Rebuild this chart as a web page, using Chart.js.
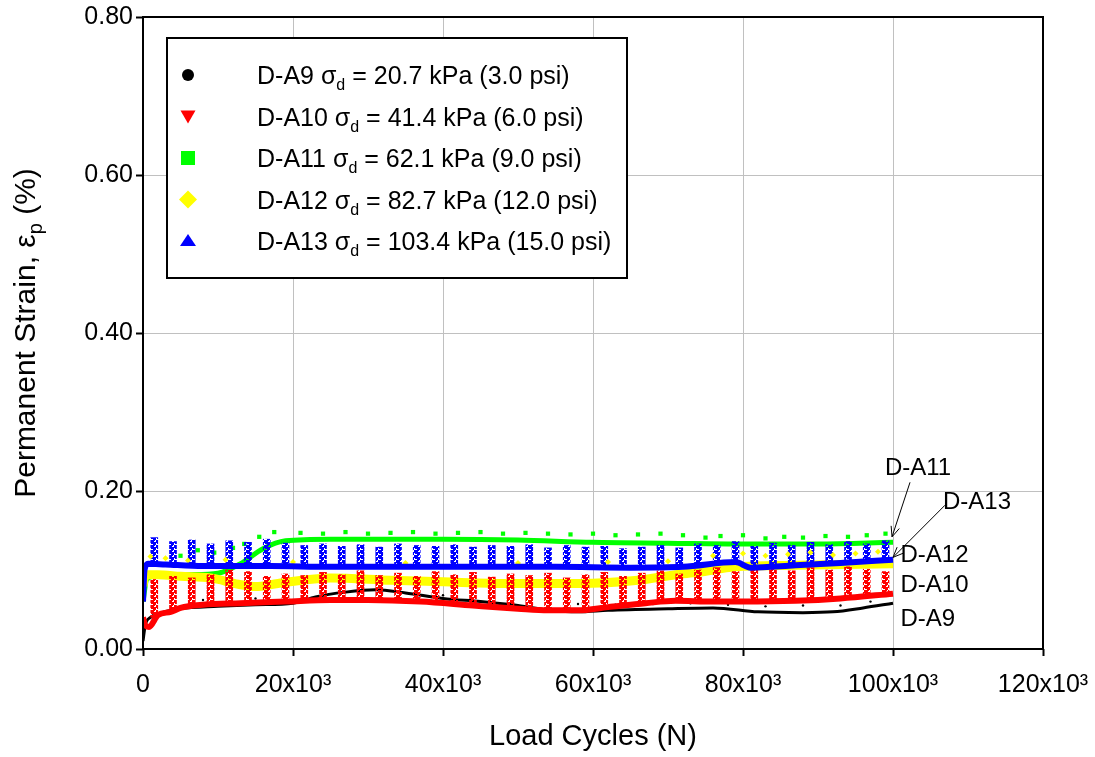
<!DOCTYPE html>
<html>
<head>
<meta charset="utf-8">
<title>Permanent Strain vs Load Cycles</title>
<script src="https://cdn.jsdelivr.net/npm/chart.js@4.4.0/dist/chart.umd.min.js"></script>
<style>
  html, body { margin: 0; padding: 0; background: #ffffff; }
</style>
</head>
<body>
<canvas id="myChart" width="1095" height="757"></canvas>
<script>
// Trend curves (load cycles, permanent strain %)
var a9N = [0, 300, 1000, 2500, 5000, 10000, 15000, 20000, 23000, 27000, 31000, 35000, 40000, 45000, 50000, 55000, 58000, 62000, 70000, 76000, 82000, 88000, 92000, 96000, 100000];
var a9Strain = [0.010, 0.030, 0.040, 0.046, 0.051, 0.054, 0.056, 0.058, 0.066, 0.072, 0.075, 0.071, 0.064, 0.060, 0.055, 0.048, 0.047, 0.049, 0.051, 0.052, 0.047, 0.046, 0.047, 0.052, 0.058];

var a10N = [0, 300, 800, 2000, 3700, 5000, 8000, 13000, 19000, 25000, 30000, 37000, 44000, 50000, 54000, 58000, 62000, 67000, 71000, 76000, 80000, 87000, 93000, 100000];
var a10Strain = [0.040, 0.030, 0.028, 0.043, 0.047, 0.052, 0.056, 0.058, 0.060, 0.062, 0.062, 0.060, 0.055, 0.051, 0.049, 0.049, 0.053, 0.058, 0.061, 0.060, 0.060, 0.061, 0.064, 0.070];

var a11N = [0, 500, 2000, 6000, 10000, 13000, 16000, 19000, 25000, 40000, 50000, 60000, 70000, 80000, 90000, 100000];
var a11Strain = [0.060, 0.088, 0.093, 0.094, 0.096, 0.108, 0.127, 0.137, 0.139, 0.139, 0.138, 0.135, 0.134, 0.133, 0.133, 0.135];

var a12N = [0, 300, 2000, 5000, 9000, 12700, 15000, 18000, 25000, 33000, 40000, 49000, 58000, 66000, 71000, 74000, 79000, 87000, 100000];
var a12Strain = [0.080, 0.094, 0.094, 0.092, 0.090, 0.082, 0.079, 0.083, 0.090, 0.087, 0.085, 0.083, 0.083, 0.087, 0.094, 0.097, 0.104, 0.106, 0.108];

var a13N = [0, 200, 700, 3000, 8000, 17000, 25000, 40000, 55000, 65000, 72000, 79000, 81000, 87000, 93000, 100000];
var a13Strain = [0.060, 0.100, 0.108, 0.107, 0.105, 0.105, 0.104, 0.104, 0.104, 0.103, 0.104, 0.110, 0.103, 0.106, 0.109, 0.113];

// Scatter of the cyclic readings above each curve
var spikeN = [1500, 4000, 6500, 9000, 11500, 14000, 16500, 19000, 21500, 24000, 26500, 29000, 31500, 34000, 36500, 39000, 41500, 44000, 46500, 49000, 51500, 54000, 56500, 59000, 61500, 64000, 66500, 69000, 71500, 74000, 76500, 79000, 81500, 84000, 86500, 89000, 91500, 94000, 96500, 99000];
var a10SpikeLow = [0.040, 0.048, 0.054, 0.056, 0.057, 0.058, 0.059, 0.060, 0.061, 0.062, 0.062, 0.062, 0.062, 0.061, 0.060, 0.059, 0.057, 0.055, 0.053, 0.052, 0.050, 0.049, 0.049, 0.050, 0.052, 0.055, 0.058, 0.060, 0.061, 0.061, 0.060, 0.060, 0.060, 0.060, 0.060, 0.061, 0.063, 0.065, 0.067, 0.069];
var a10SpikeTop = [0.088, 0.092, 0.090, 0.094, 0.100, 0.098, 0.092, 0.095, 0.093, 0.097, 0.094, 0.099, 0.093, 0.096, 0.092, 0.098, 0.094, 0.097, 0.091, 0.095, 0.093, 0.096, 0.090, 0.094, 0.097, 0.092, 0.096, 0.099, 0.095, 0.100, 0.103, 0.098, 0.101, 0.104, 0.099, 0.103, 0.100, 0.104, 0.101, 0.098];
var a13SpikeLow = [0.107, 0.107, 0.106, 0.105, 0.105, 0.105, 0.105, 0.105, 0.105, 0.104, 0.104, 0.104, 0.104, 0.104, 0.104, 0.104, 0.104, 0.104, 0.104, 0.104, 0.104, 0.104, 0.104, 0.104, 0.104, 0.103, 0.103, 0.103, 0.104, 0.106, 0.108, 0.109, 0.103, 0.105, 0.106, 0.107, 0.108, 0.110, 0.111, 0.112];
var a13SpikeTop = [0.141, 0.136, 0.138, 0.133, 0.137, 0.135, 0.139, 0.134, 0.131, 0.133, 0.130, 0.132, 0.129, 0.133, 0.131, 0.130, 0.132, 0.129, 0.131, 0.130, 0.132, 0.128, 0.131, 0.129, 0.130, 0.127, 0.129, 0.131, 0.128, 0.133, 0.131, 0.136, 0.130, 0.134, 0.131, 0.135, 0.132, 0.136, 0.133, 0.137];

var a11DotN = [5000, 7300, 9500, 12000, 13500, 15500, 17500, 21000, 24000, 27000, 30000, 33000, 36000, 39000, 42000, 45000, 48000, 51000, 54000, 57000, 60000, 63000, 66000, 69000, 72000, 75000, 77000, 80000, 83000, 85500, 88000, 91000, 94000, 96500, 99000];
var a11DotStrain = [0.118, 0.125, 0.122, 0.128, 0.133, 0.142, 0.148, 0.147, 0.146, 0.148, 0.146, 0.147, 0.148, 0.146, 0.147, 0.148, 0.146, 0.147, 0.146, 0.145, 0.146, 0.144, 0.145, 0.146, 0.144, 0.141, 0.143, 0.144, 0.140, 0.142, 0.141, 0.143, 0.142, 0.144, 0.146];
var a12DotN = [1000, 3000, 6000, 11000, 20000, 35000, 50000, 62000, 70000, 76000, 80000, 83000, 86000, 89000, 92000, 95000, 98000];
var a12DotStrain = [0.117, 0.115, 0.112, 0.113, 0.110, 0.109, 0.109, 0.110, 0.111, 0.118, 0.121, 0.118, 0.120, 0.122, 0.119, 0.121, 0.123];
var a9DotN = [8000, 15000, 40000, 58000, 63000, 68000, 73000, 78000, 83000, 88000, 93000, 97000];
var a9DotStrain = [0.062, 0.064, 0.068, 0.057, 0.056, 0.057, 0.058, 0.056, 0.054, 0.055, 0.055, 0.060];

// Tick values
var xTicks = [0, 20000, 40000, 60000, 80000, 100000, 120000];
var yTicks = [0, 0.2, 0.4, 0.6, 0.8];

// Legend entries
var seriesNames = ['D-A9', 'D-A10', 'D-A11', 'D-A12', 'D-A13'];
var stressLabels = ['20.7 kPa (3.0 psi)', '41.4 kPa (6.0 psi)', '62.1 kPa (9.0 psi)', '82.7 kPa (12.0 psi)', '103.4 kPa (15.0 psi)'];

var FONT = "'Liberation Sans', Arial, sans-serif";
var colors = ['#000000', '#ff0000', '#00ff00', '#ffff00', '#0000ff'];
var markers = ['circle', 'triDown', 'square', 'diamond', 'triUp'];

var ctx = document.getElementById('myChart').getContext('2d');

function toPoints(xs, ys) {
  return xs.map(function (x, i) { return { x: x, y: ys[i] }; });
}
function toBars(xs, lows, highs) {
  return xs.map(function (x, i) { return { x: x, y: [lows[i], highs[i]] }; });
}

// dense speckled fill so the spike columns read as stacks of small markers
function speckle(color) {
  var c = document.createElement('canvas');
  c.width = 6; c.height = 5;
  var g = c.getContext('2d');
  g.fillStyle = color;
  g.fillRect(0, 0, 4, 3);
  g.fillRect(1, 3, 2, 1);
  g.fillRect(3, 2, 3, 3);
  g.fillRect(4, 0, 1, 1);
  return ctx.createPattern(c, 'repeat');
}

function trend(xs, ys, color, width, order) {
  return {
    type: 'line', data: toPoints(xs, ys), borderColor: color, borderWidth: width,
    pointRadius: 0, fill: false, cubicInterpolationMode: 'monotone', order: order
  };
}
function dots(xs, ys, color, style, radius, order) {
  return {
    type: 'scatter', data: toPoints(xs, ys), backgroundColor: color, borderColor: color,
    borderWidth: 0, pointStyle: style, pointRadius: radius, order: order
  };
}
function spikes(lows, highs, color, order) {
  return {
    type: 'bar', data: toBars(spikeN, lows, highs), backgroundColor: speckle(color),
    barThickness: 7, grouped: false, order: order
  };
}

function drawMarker(c, style, x, y, color) {
  c.fillStyle = color;
  c.beginPath();
  if (style === 'circle') {
    c.arc(x, y, 6, 0, Math.PI * 2);
  } else if (style === 'triDown') {
    c.moveTo(x - 7.5, y - 6); c.lineTo(x + 7.5, y - 6); c.lineTo(x, y + 7);
  } else if (style === 'square') {
    c.rect(x - 7, y - 7, 14, 14);
  } else if (style === 'diamond') {
    c.moveTo(x, y - 9); c.lineTo(x + 9, y); c.lineTo(x, y + 9); c.lineTo(x - 9, y);
  } else {
    c.moveTo(x, y - 7); c.lineTo(x + 8, y + 5); c.lineTo(x - 8, y + 5);
  }
  c.closePath();
  c.fill();
}

// Frame around the plot area
var framePlugin = {
  id: 'frame',
  afterDatasetsDraw: function (chart) {
    var a = chart.chartArea, c = chart.ctx;
    c.save();
    c.strokeStyle = '#000';
    c.lineWidth = 2;
    c.strokeRect(a.left, a.top, a.right - a.left, a.bottom - a.top);
    c.restore();
  }
};

// Curve labels with arrows
var curveLabelPlugin = {
  id: 'curveLabels',
  afterDatasetsDraw: function (chart) {
    var xs = chart.scales.x, ys = chart.scales.y, c = chart.ctx;
    var labels = [
      ['D-A11', 98930, 0.229], ['D-A13', 106670, 0.186], ['D-A12', 101000, 0.119],
      ['D-A10', 101000, 0.081], ['D-A9', 101000, 0.037]
    ];
    var arrows = [[102270, 0.211, 99870, 0.142], [106930, 0.182, 100000, 0.116]];
    c.save();
    c.font = '24px ' + FONT;
    c.fillStyle = '#000';
    c.textAlign = 'left';
    c.textBaseline = 'middle';
    labels.forEach(function (l) {
      c.fillText(l[0], xs.getPixelForValue(l[1]), ys.getPixelForValue(l[2]));
    });
    c.strokeStyle = '#000';
    c.lineWidth = 1;
    arrows.forEach(function (r) {
      var x1 = xs.getPixelForValue(r[0]), y1 = ys.getPixelForValue(r[1]);
      var x2 = xs.getPixelForValue(r[2]), y2 = ys.getPixelForValue(r[3]);
      var ang = Math.atan2(y2 - y1, x2 - x1);
      c.beginPath();
      c.moveTo(x1, y1); c.lineTo(x2, y2);
      c.moveTo(x2 - 11 * Math.cos(ang - 0.4), y2 - 11 * Math.sin(ang - 0.4));
      c.lineTo(x2, y2);
      c.lineTo(x2 - 11 * Math.cos(ang + 0.4), y2 - 11 * Math.sin(ang + 0.4));
      c.stroke();
    });
    c.restore();
  }
};

// Boxed legend with subscripts
var legendPlugin = {
  id: 'boxLegend',
  afterDraw: function (chart) {
    var c = chart.ctx, a = chart.chartArea;
    var left = a.left + 24, top = a.top + 21;
    c.save();
    c.fillStyle = '#fff';
    c.fillRect(left, top, 460, 240);
    c.strokeStyle = '#000';
    c.lineWidth = 2;
    c.strokeRect(left, top, 460, 240);
    c.textAlign = 'left';
    c.textBaseline = 'alphabetic';
    seriesNames.forEach(function (name, i) {
      var y = top + 37 + i * 41.5;
      drawMarker(c, markers[i], left + 21, y, colors[i]);
      var x = left + 90, base = y + 9;
      c.fillStyle = '#000';
      c.font = '25px ' + FONT;
      var t1 = name + ' σ';
      c.fillText(t1, x, base);
      x += c.measureText(t1).width;
      c.font = '16px ' + FONT;
      c.fillText('d', x, base + 6);
      x += c.measureText('d').width;
      c.font = '25px ' + FONT;
      c.fillText(' = ' + stressLabels[i], x, base);
    });
    c.restore();
  }
};

// Y axis title with subscript
var yTitlePlugin = {
  id: 'yTitle',
  afterDraw: function (chart) {
    var c = chart.ctx, a = chart.chartArea;
    var parts = [['Permanent Strain, ε', 30, 0], ['p', 20, 7], [' (%)', 30, 0]];
    c.save();
    var total = 0;
    parts.forEach(function (p) {
      c.font = p[1] + 'px ' + FONT;
      total += c.measureText(p[0]).width;
    });
    c.translate(35, (a.top + a.bottom) / 2);
    c.rotate(-Math.PI / 2);
    c.fillStyle = '#000';
    c.textAlign = 'left';
    c.textBaseline = 'alphabetic';
    var x = -total / 2;
    parts.forEach(function (p) {
      c.font = p[1] + 'px ' + FONT;
      c.fillText(p[0], x, p[2]);
      x += c.measureText(p[0]).width;
    });
    c.restore();
  }
};

var datasets = [
  trend(a13N, a13Strain, colors[4], 6, 1),
  spikes(a10SpikeLow, a10SpikeTop, colors[1], 2),
  dots(a12DotN, a12DotStrain, colors[3], 'rectRot', 3, 3),
  spikes(a13SpikeLow, a13SpikeTop, colors[4], 4),
  trend(a12N, a12Strain, colors[3], 9, 5),
  trend(a11N, a11Strain, colors[2], 5, 6),
  dots(a11DotN, a11DotStrain, colors[2], 'rect', 3, 7),
  trend(a10N, a10Strain, colors[1], 6, 8),
  trend(a9N, a9Strain, colors[0], 3, 9),
  dots(a9DotN, a9DotStrain, colors[0], 'circle', 1.2, 10)
];

var myChart = new Chart(ctx, {
  type: 'scatter',
  data: { datasets: datasets },
  options: {
    responsive: false,
    animation: false,
    layout: { padding: { top: 17, right: 52, left: 0, bottom: 0 } },
    plugins: { legend: { display: false }, tooltip: { enabled: false } },
    scales: {
      x: {
        type: 'linear', min: xTicks[0], max: xTicks[xTicks.length - 1], offset: false,
        afterFit: function (scale) {
          scale.height = 108;
          scale.paddingLeft = 0;
          scale.paddingRight = 0;
        },
        afterBuildTicks: function (scale) { scale.ticks = xTicks.map(function (v) { return { value: v }; }); },
        grid: { color: '#c0c0c0', lineWidth: 1, offset: false, tickLength: 7, tickColor: '#000', tickWidth: 2 },
        border: { display: false },
        ticks: {
          color: '#000', font: { family: FONT, size: 25 }, padding: 14, maxRotation: 0,
          callback: function (v) { return v === 0 ? '0' : (v / 1000) + 'x10³'; }
        },
        title: {
          display: true, text: 'Load Cycles (N)', color: '#000',
          font: { family: FONT, size: 29 }, padding: { top: 3, bottom: 3 }
        }
      },
      y: {
        type: 'linear', min: yTicks[0], max: yTicks[yTicks.length - 1],
        afterFit: function (scale) {
          scale.width = 143;
          scale.paddingTop = 0;
          scale.paddingBottom = 0;
        },
        afterBuildTicks: function (scale) { scale.ticks = yTicks.map(function (v) { return { value: v }; }); },
        grid: { color: '#c0c0c0', lineWidth: 1, tickLength: 7, tickColor: '#000', tickWidth: 2 },
        border: { display: false },
        ticks: {
          color: '#000', font: { family: FONT, size: 25 }, padding: 3,
          callback: function (v) { return v.toFixed(2); }
        }
      }
    }
  },
  plugins: [framePlugin, curveLabelPlugin, legendPlugin, yTitlePlugin]
});
</script>
</body>
</html>
